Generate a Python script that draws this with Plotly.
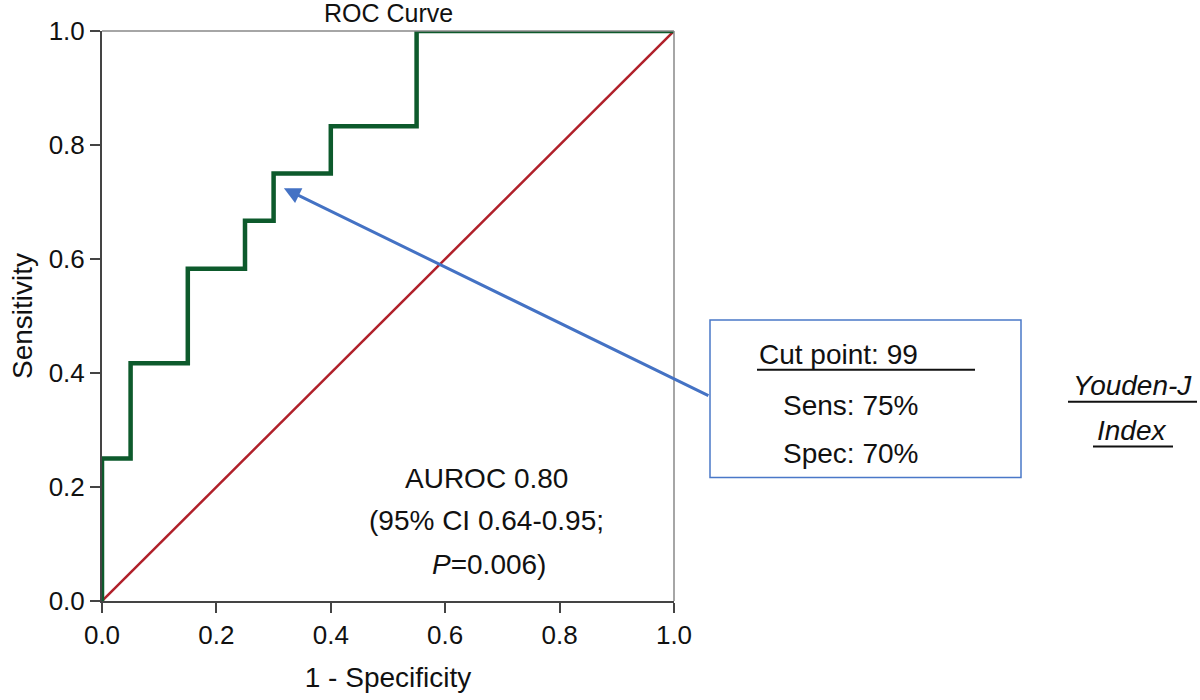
import plotly.graph_objects as go

# ROC step curve (1 - specificity, sensitivity)
fpr = [0.0, 0.0, 0.05, 0.05, 0.15, 0.15, 0.25, 0.25, 0.30, 0.30, 0.40, 0.40, 0.55, 0.55, 1.0]
tpr = [0.0, 0.25, 0.25, 0.417, 0.417, 0.583, 0.583, 0.667, 0.667, 0.75, 0.75, 0.833, 0.833, 1.0, 1.0]
ref_x = [0.0, 1.0]
ref_y = [0.0, 1.0]
tick_vals = [0.0, 0.2, 0.4, 0.6, 0.8, 1.0]
tick_text = ["0.0", "0.2", "0.4", "0.6", "0.8", "1.0"]
youden_point = (0.318, 0.724)

FONT = "Liberation Sans, Arial, sans-serif"
W, H = 1200, 700
L, T, PW, PH = 102, 31, 572, 572  # screen coords of plot area

fig = go.Figure()
fig.add_trace(go.Scatter(x=ref_x, y=ref_y, mode="lines",
                         line=dict(color="#b0202a", width=2.5), hoverinfo="skip"))
fig.add_trace(go.Scatter(x=fpr, y=tpr, mode="lines",
                         line=dict(color="#0d5a2c", width=4.5), hoverinfo="skip"))

axis_common = dict(range=[0, 1], tickvals=tick_vals, ticktext=tick_text,
                   showgrid=False, zeroline=False, showline=True,
                   linecolor="#444", linewidth=2, ticks="outside", ticklen=10,
                   tickwidth=2, tickcolor="#444",
                   tickfont=dict(size=26, color="#111", family=FONT))
fig.update_xaxes(**axis_common, title=dict(text="1 - Specificity",
                 font=dict(size=28, color="#111", family=FONT), standoff=18))
fig.update_yaxes(**axis_common, title=dict(text="Sensitivity",
                 font=dict(size=28, color="#111", family=FONT), standoff=8))

def px(x):
    return (x - L) / PW
def py(y):
    return (T + PH - y) / PH

shapes = []
shapes.append(dict(type="line", xref="paper", yref="paper", x0=0, x1=1, y0=1, y1=1,
                   line=dict(color="#888", width=1.5)))
shapes.append(dict(type="line", xref="paper", yref="paper", x0=1, x1=1, y0=0, y1=1,
                   line=dict(color="#888", width=1.5)))
shapes.append(dict(type="rect", xref="paper", yref="paper",
                   x0=px(710), x1=px(1021), y0=py(479), y1=py(321),
                   line=dict(color="#4a78c8", width=1.5), fillcolor="rgba(0,0,0,0)"))
shapes.append(dict(type="line", xref="paper", yref="paper", x0=px(757), x1=px(975),
                   y0=py(371), y1=py(371), line=dict(color="#111", width=2)))
shapes.append(dict(type="line", xref="paper", yref="paper", x0=px(1068), x1=px(1197),
                   y0=py(403), y1=py(403), line=dict(color="#111", width=2)))
shapes.append(dict(type="line", xref="paper", yref="paper", x0=px(1093), x1=px(1173),
                   y0=py(448), y1=py(448), line=dict(color="#111", width=2)))
fig.update_layout(shapes=shapes)

def text_ann(text, x, y, size=28):
    return dict(text=text, xref="paper", yref="paper", x=px(x), y=py(y),
                xanchor="center", yanchor="middle", showarrow=False,
                font=dict(size=size, color="#111", family=FONT))

ann = [
    text_ann("ROC Curve", 388, 13, 25),
    text_ann("AUROC 0.80", 486, 480),
    text_ann("(95% CI 0.64-0.95;", 486, 522),
    text_ann("<i>P</i>=0.006)", 489, 566),
    text_ann("Cut point: 99", 838, 356),
    text_ann("Sens: 75%", 850, 407),
    text_ann("Spec: 70%", 850, 455),
    text_ann("<i>Youden-J</i>", 1132, 387),
    text_ann("<i>Index</i>", 1131, 432),
]
ann.append(dict(x=youden_point[0], y=youden_point[1], xref="x", yref="y", text="",
                showarrow=True, ax=426, ay=208, arrowhead=2, arrowsize=1.1,
                arrowwidth=3, arrowcolor="#4472c4", standoff=0))

fig.update_layout(annotations=ann, width=W, height=H,
                  margin=dict(l=L, r=W - L - PW, t=T, b=H - T - PH),
                  plot_bgcolor="white", paper_bgcolor="white", showlegend=False)

fig.write_html("out.html", config={"displayModeBar": False},
               post_script="document.body.style.margin='0';")
